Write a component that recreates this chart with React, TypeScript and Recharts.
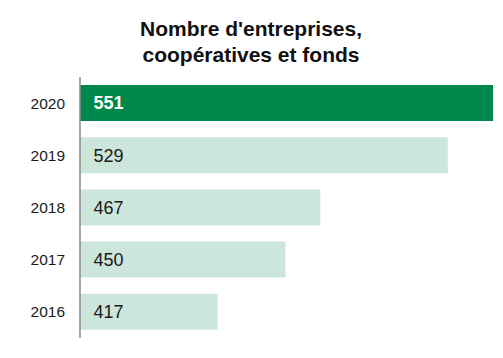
import React from "react";
import { BarChart, Bar, XAxis, YAxis, Cell, LabelList } from "recharts";

const years = ["2020", "2019", "2018", "2017", "2016"];
const values = [551, 529, 467, 450, 417];
const highlightYear = "2020";
const titleLines = ["Nombre d'entreprises,", "coopératives et fonds"];

const data = years.map((y, i) => ({ year: y, value: values[i] }));

const FONT = "'Liberation Sans', Arial, sans-serif";

const renderLabel = (props: any) => {
  const { x, y, height, value, index } = props;
  const hl = data[index]?.year === highlightYear;
  return (
    <text
      x={x + 13.5}
      y={y + height / 2}
      dy="0.36em"
      fontFamily={FONT}
      fontSize={18}
      fontWeight={hl ? "bold" : "normal"}
      fill={hl ? "#ffffff" : "#1a1a1a"}
    >
      {value}
    </text>
  );
};

export default function App() {
  return (
    <div style={{ position: "fixed", left: 0, top: 0, width: 503, height: 358, background: "#fff" }}>
      <svg width={503} height={358} style={{ position: "absolute", left: 0, top: 0 }}>
        {titleLines.map((t, i) => (
          <text
            key={i}
            x={251}
            y={36 + i * 25.5}
            textAnchor="middle"
            fontFamily={FONT}
            fontWeight="bold"
            fontSize={21}
            fill="#111"
          >
            {t}
          </text>
        ))}
      </svg>
      <div style={{ position: "absolute", left: 0, top: 0 }}>
        <BarChart
          width={503}
          height={358}
          data={data}
          layout="vertical"
          margin={{ top: 77, right: 10, bottom: 20, left: 0 }}
          barSize={36}
        >
          <XAxis type="number" hide domain={[350, 551]} allowDataOverflow />
          <YAxis
            type="category"
            dataKey="year"
            width={80}
            axisLine={{ stroke: "#8a8a8a", strokeWidth: 1.5 }}
            tickLine={false}
            tickSize={0}
            tickMargin={15}
            tick={{ fontSize: 15.5, fill: "#1a1a1a", fontFamily: FONT }}
          />
          <Bar dataKey="value" isAnimationActive={false}>
            {data.map((d, i) => (
              <Cell key={i} fill={d.year === highlightYear ? "#00884c" : "#cde6db"} />
            ))}
            <LabelList dataKey="value" content={renderLabel} />
          </Bar>
        </BarChart>
      </div>
    </div>
  );
}
